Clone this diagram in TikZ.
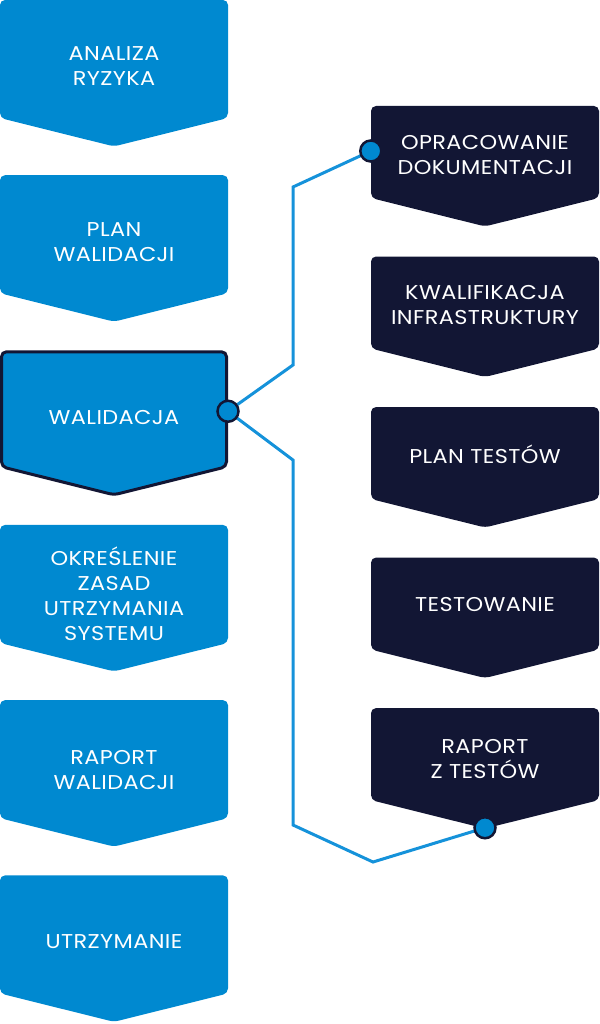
\documentclass[tikz,border=0pt]{standalone}
\usepackage{fontspec}
\setmainfont{Poppins}[FakeStretch=1.12, LetterSpace=2]
\usetikzlibrary{shapes.symbols,positioning}
\definecolor{stepblue}{HTML}{0089D0}
\definecolor{navy}{HTML}{121634}
\definecolor{wireblue}{HTML}{1592DA}

\begin{document}
\begin{tikzpicture}[x=1pt, y=1pt,
    blk/.style={signal, signal to=south, signal pointer angle=152,
      minimum width=228pt, minimum height=118pt, inner sep=0pt,
      fill=stepblue, rounded corners=5pt},
    sub/.style={blk, fill=navy, minimum height=92pt},
    txt/.style={text=white, align=center, font=\fontsize{20}{25}\selectfont},
    dot/.style={circle, fill=stepblue, draw=navy, line width=2.5pt,
      minimum size=21pt, inner sep=0pt},
    wire/.style={draw=wireblue, line width=3pt}]
    \useasboundingbox (0,0) rectangle (599,-1024);

    % main steps
    \node [blk, label={[txt,yshift=-7.5pt]center:ANALIZA\\RYZYKA}] (ryzyko) at (114,-59) {};
    \node [blk, below=28.4pt of ryzyko, label={[txt,yshift=-8pt]center:PLAN\\WALIDACJI}] (plan) {};
    \node [blk, below=28.4pt of plan, draw=navy, line width=3pt,
           minimum width=225pt, minimum height=115pt,
           label={[txt,yshift=-8pt]center:WALIDACJA}] (walid) {};
    \node [blk, below=28.4pt of walid, label={[txt,yshift=-10pt]center:OKREŚLENIE\\ZASAD\\UTRZYMANIA\\SYSTEMU}] (zasady) {};
    \node [blk, below=28.4pt of zasady, label={[txt,yshift=-11pt]center:RAPORT\\WALIDACJI}] (raport) {};
    \node [blk, below=28.4pt of raport, label={[txt,yshift=-7pt]center:UTRZYMANIE}] (utrzym) {};

    % sub steps
    \node [sub, label={[txt,yshift=-3pt]center:OPRACOWANIE\\DOKUMENTACJI}] (dok) at (485,-152) {};
    \node [sub, below=29.7pt of dok, label={[txt,yshift=-2pt]center:KWALIFIKACJA\\INFRASTRUKTURY}] (kwal) {};
    \node [sub, below=29.7pt of kwal, label={[txt,yshift=-1pt]center:PLAN TESTÓW}] (testplan) {};
    \node [sub, below=29.7pt of testplan, label={[txt,yshift=-1pt]center:TESTOWANIE}] (test) {};
    \node [sub, below=29.7pt of test, label={[txt,yshift=-5pt]center:RAPORT\\Z TESTÓW}] (raptest) {};

    \coordinate (pw) at ([yshift=-2pt]walid.east);
    \coordinate (pd) at ([yshift=1pt]dok.west);
    \coordinate (pr) at ([yshift=1pt]raptest.south);
    \coordinate (k1) at (293,-365);
    \coordinate (k2) at (293,-187);
    \coordinate (k3) at (293,-460);
    \coordinate (k4) at (293,-825);
    \coordinate (k5) at (373,-862);

    \draw [wire] (pw) -- (k1) -- (k2) -- (pd);
    \draw [wire] (pw) -- (k3) -- (k4) -- (k5) -- (pr);

    \node [dot] (dw) at (pw) {};
    \node [dot] (dd) at (pd) {};
    \node [dot] (dr) at (pr) {};
\end{tikzpicture}
\end{document}
